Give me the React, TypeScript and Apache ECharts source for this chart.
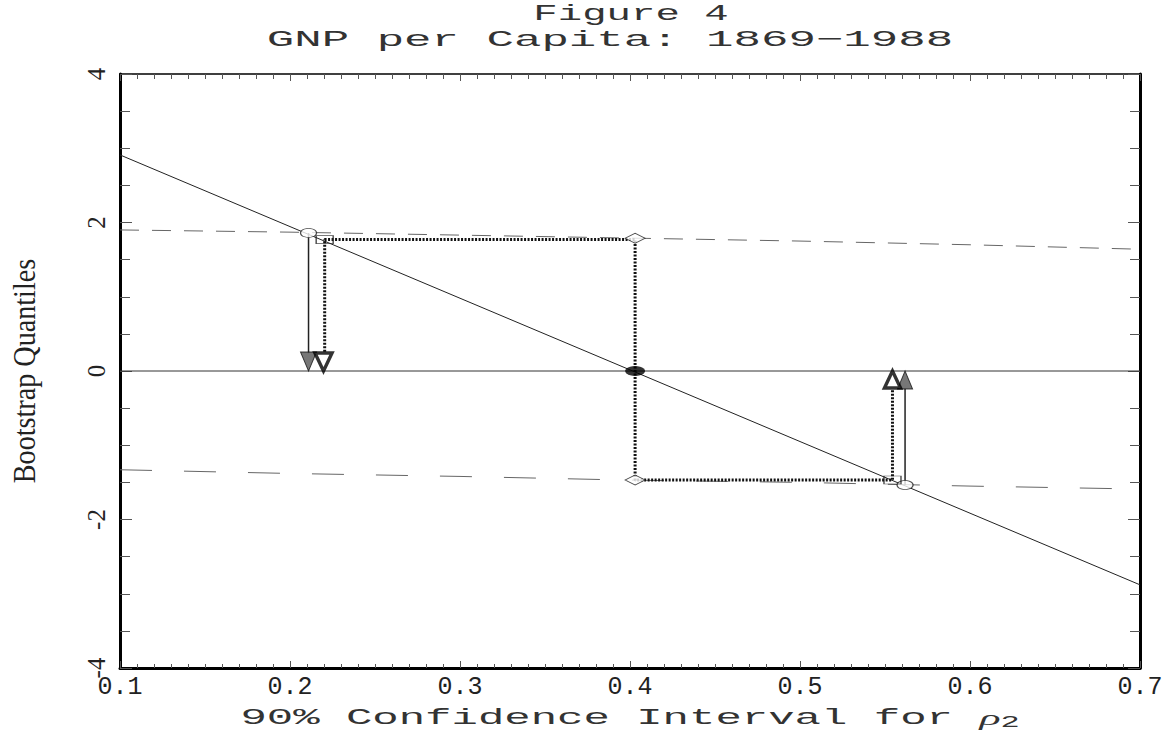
import React, { useEffect, useRef } from "react";
import * as echarts from "echarts";

// ---- data ----
const xTickLabels = ["0.1", "0.2", "0.3", "0.4", "0.5", "0.6", "0.7"];
const yTickLabels = ["-4", "-2", "0", "2", "4"];

const fitLine = [
  [0.1, 2.91],
  [0.7, -2.88],
];
const zeroLine = [
  [0.1, 0],
  [0.7, 0],
];
const upperBand = [
  [0.1, 1.9],
  [0.2, 1.87],
  [0.3, 1.83],
  [0.4, 1.79],
  [0.5, 1.75],
  [0.6, 1.7],
  [0.7, 1.64],
];
const lowerBand = [
  [0.1, -1.33],
  [0.2, -1.38],
  [0.3, -1.42],
  [0.4, -1.47],
  [0.5, -1.5],
  [0.6, -1.55],
  [0.7, -1.59],
];
const dottedPath = [
  [0.2204, 0.26],
  [0.2204, 1.77],
  [0.403, 1.77],
  [0.403, -1.468],
  [0.5544, -1.468],
  [0.5544, -0.26],
];
const arrowLeft = [
  [0.2109, 1.86],
  [0.2109, 0.24],
];
const arrowRight = [
  [0.5618, -1.535],
  [0.5618, -0.24],
];
const openCircles = [
  [0.2109, 1.86],
  [0.5618, -1.535],
];
const squares = [
  [0.2204, 1.77],
  [0.5544, -1.468],
];
const diamonds = [
  [0.403, 1.787],
  [0.403, -1.468],
];
const pointEstimate = [[0.403, 0]];
const downHatched = [[0.2109, 0]];
const downOpen = [[0.2197, 0]];
const upHatched = [[0.5618, 0]];
const upOpen = [[0.5544, 0]];

const MONO = "Liberation Mono";
const SERIF = "Liberation Serif";

export default function App() {
  const ref = useRef<HTMLDivElement | null>(null);

  useEffect(() => {
    if (!ref.current) return;
    const chart = echarts.init(ref.current, undefined, { renderer: "svg" });

    const tickStyle = { color: "#555", width: 1 };
    const lineSeries = (data: number[][], style: any, z = 2) => ({
      type: "line",
      data,
      symbol: "none",
      showSymbol: false,
      silent: true,
      z,
      lineStyle: style,
    });
    const scatter = (data: number[][], opts: any, z = 5) => ({
      type: "scatter",
      data,
      silent: true,
      z,
      ...opts,
    });

    const option: any = {
      animation: false,
      backgroundColor: "#ffffff",
      grid: { left: 120, right: 29, top: 74, bottom: 64, containLabel: false },
      xAxis: [
        {
          type: "value",
          position: "bottom",
          min: 0.1,
          max: 0.7,
          interval: 0.1,
          axisLine: { show: true, onZero: false, lineStyle: { color: "#000", width: 3 } },
          axisTick: { show: true, inside: true, length: 7, lineStyle: tickStyle },
          minorTick: { show: true, splitNumber: 10, length: 4, lineStyle: tickStyle },
          splitLine: { show: false },
          axisLabel: {
            margin: 7,
            fontFamily: MONO,
            fontSize: 25,
            color: "#222",
            formatter: (v: number) => "{t|" + (xTickLabels[Math.round((v - 0.1) * 10)] ?? "") + "}",
            rich: { t: { fontFamily: MONO, fontSize: 25, color: "#222" } },
          },
        },
        {
          type: "value",
          position: "top",
          min: 0.1,
          max: 0.7,
          interval: 0.1,
          axisLine: { show: true, onZero: false, lineStyle: { color: "#000", width: 1.5 } },
          axisTick: { show: true, inside: true, length: 7, lineStyle: tickStyle },
          minorTick: { show: true, splitNumber: 10, length: 5, lineStyle: tickStyle },
          splitLine: { show: false },
          axisLabel: { show: false },
        },
      ],
      yAxis: [
        {
          type: "value",
          position: "left",
          min: -4,
          max: 4,
          interval: 2,
          axisLine: { show: true, onZero: false, lineStyle: { color: "#000", width: 3 } },
          axisTick: { show: true, inside: true, length: 12, lineStyle: tickStyle },
          minorTick: { show: true, splitNumber: 4, length: 10, lineStyle: tickStyle },
          splitLine: { show: false },
          axisLabel: {
            rotate: 90,
            margin: 11,
            fontFamily: SERIF,
            fontSize: 25,
            color: "#222",
            formatter: (v: number) => "{t|" + (yTickLabels[Math.round((v + 4) / 2)] ?? "") + "}",
            rich: { t: { fontFamily: SERIF, fontSize: 25, color: "#222" } },
          },
        },
        {
          type: "value",
          position: "right",
          min: -4,
          max: 4,
          interval: 2,
          axisLine: { show: true, onZero: false, lineStyle: { color: "#000", width: 3 } },
          axisTick: { show: true, inside: true, length: 12, lineStyle: tickStyle },
          minorTick: { show: true, splitNumber: 4, length: 10, lineStyle: tickStyle },
          splitLine: { show: false },
          axisLabel: { show: false },
        },
      ],
      graphic: [
        {
          type: "text",
          x: 631,
          y: 14,
          scaleX: 1.85,
          style: { text: "Figure 4", font: `22px ${MONO}`, fill: "#333", align: "center", verticalAlign: "middle" },
        },
        {
          type: "text",
          x: 610,
          y: 40,
          scaleX: 2.08,
          style: {
            text: "GNP per Capita: 1869\u22121988",
            font: `22px ${MONO}`,
            fill: "#333",
            align: "center",
            verticalAlign: "middle",
          },
        },
        {
          type: "text",
          x: 630,
          y: 718,
          scaleX: 2.0,
          style: {
            text: "{a|90% Confidence Interval for }{r|\u03c1}{s|2}",
            align: "center",
            verticalAlign: "middle",
            rich: {
              a: { font: `22px ${MONO}`, fill: "#333" },
              r: { font: `italic 22px ${SERIF}`, fill: "#333" },
              s: { font: `16px ${MONO}`, fill: "#333", padding: [10, 0, 0, 0] },
            },
          },
        },
        {
          type: "text",
          x: 24,
          y: 371,
          rotation: Math.PI / 2,
          scaleX: 0.88,
          style: {
            text: "Bootstrap Quantiles",
            font: `32px ${SERIF}`,
            fill: "#222",
            align: "center",
            verticalAlign: "middle",
          },
        },
      ],
      series: [
        lineSeries(zeroLine, { color: "#333", width: 1 }, 1),
        lineSeries(upperBand, { color: "#666", width: 1, type: [19, 13] }, 1),
        lineSeries(lowerBand, { color: "#666", width: 1, type: [32, 32] }, 1),
        lineSeries(fitLine, { color: "#222", width: 1 }, 2),
        lineSeries(dottedPath, { color: "#111", width: 3, type: [2, 1.5] }, 3),
        lineSeries(arrowLeft, { color: "#222", width: 1.5 }, 3),
        lineSeries(arrowRight, { color: "#222", width: 1.5 }, 3),
        scatter(openCircles, {
          symbol: "circle",
          symbolSize: [16, 9],
          itemStyle: { color: "#fff", borderColor: "#222", borderWidth: 1 },
        }),
        scatter(squares, {
          symbol: "rect",
          symbolSize: [17, 8],
          itemStyle: { color: "rgba(255,255,255,0)", borderColor: "#222", borderWidth: 1 },
        }),
        scatter(diamonds, {
          symbol: "diamond",
          symbolSize: [20, 10],
          itemStyle: { color: "#fff", borderColor: "#222", borderWidth: 1 },
        }),
        scatter(pointEstimate, {
          symbol: "circle",
          symbolSize: [20, 10],
          itemStyle: { color: "#000" },
        }),
        scatter(downHatched, {
          symbol: "triangle",
          symbolSize: [16, 19],
          symbolRotate: 180,
          symbolOffset: [0, "-50%"],
          itemStyle: { color: "#555", borderColor: "#111", borderWidth: 1 },
        }, 6),
        scatter(downOpen, {
          symbol: "triangle",
          symbolSize: [17, 18],
          symbolRotate: 180,
          symbolOffset: [0, "-50%"],
          itemStyle: { color: "#fff", borderColor: "#000", borderWidth: 3.5 },
        }, 7),
        scatter(upHatched, {
          symbol: "triangle",
          symbolSize: [15, 18],
          symbolOffset: [0, "50%"],
          itemStyle: { color: "#555", borderColor: "#111", borderWidth: 1 },
        }, 6),
        scatter(upOpen, {
          symbol: "triangle",
          symbolSize: [16, 17],
          symbolOffset: [0, "50%"],
          itemStyle: { color: "#fff", borderColor: "#000", borderWidth: 3.5 },
        }, 7),
      ],
    };

    chart.setOption(option);
    return () => chart.dispose();
  }, []);

  return (
    <div
      ref={ref}
      style={{ position: "absolute", left: 0, top: 0, width: 1169, height: 732, background: "#fff" }}
    />
  );
}
